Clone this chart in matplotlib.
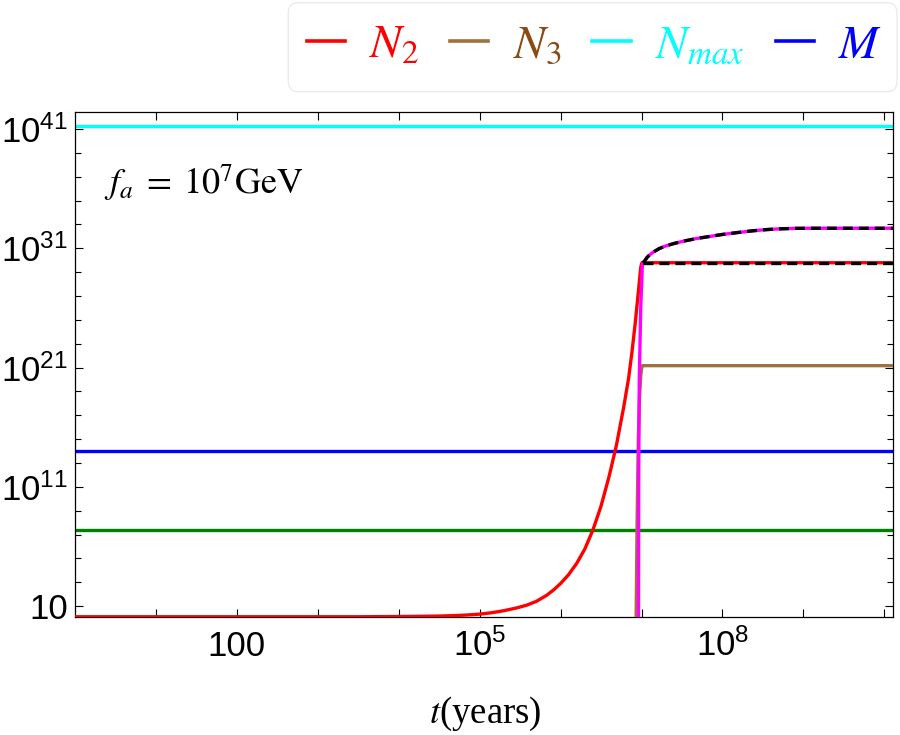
import matplotlib
matplotlib.use("Agg")
import matplotlib.pyplot as plt
from matplotlib.ticker import FixedLocator, NullFormatter
from matplotlib.patches import FancyBboxPatch
from matplotlib.transforms import IdentityTransform

# ---------------- data ----------------
t_limits = [1.0, 1.29e10]
y_limits_log = [0.09, 42.4]

n_max_value = 1.7e41      # cyan
m_value = 1.0e14          # blue
green_value = 2.3e7       # green (not in legend)

# N2 (red): log10 t, log10 N
n2_log_t = [0.0, 2.0, 3.0, 3.5, 4.0, 4.3, 4.5, 4.7, 4.85, 5.0, 5.15, 5.3, 5.45,
            5.58, 5.7, 5.83, 5.92, 6.0, 6.1, 6.2, 6.3, 6.4, 6.5, 6.6, 6.69,
            6.78, 6.84, 6.88, 6.92, 6.96, 6.99, 7.005, 10.11]
n2_log_n = [0.11, 0.11, 0.11, 0.11, 0.13, 0.15, 0.17, 0.21, 0.26, 0.33, 0.45,
            0.62, 0.84, 1.08, 1.40, 1.92, 2.40, 2.90, 3.65, 4.60, 5.80, 7.40,
            9.40, 11.9, 14.5, 17.7, 20.1, 22.2, 24.6, 27.3, 29.4, 29.79, 29.79]

# N3 (brown)
n3_log_t = [6.930, 6.945, 6.960, 6.975, 6.990, 7.000, 7.010, 10.11]
n3_log_n = [-2.0, 8.0, 15.0, 18.5, 20.3, 20.9, 21.16, 21.16]

# total (magenta, not in legend)
tot_log_t = [6.962, 6.965, 6.972, 6.990, 7.010, 7.040, 7.070, 7.100, 7.150,
             7.220, 7.300, 7.400, 7.520, 7.680, 7.850, 8.010, 8.200, 8.380,
             8.550, 8.710, 8.900, 9.120, 10.11]
tot_log_n = [-2.0, 12.0, 20.0, 26.0, 29.6, 29.95, 30.25, 30.45, 30.70,
             30.98, 31.20, 31.40, 31.60, 31.82, 32.00, 32.17, 32.33, 32.47,
             32.57, 32.63, 32.67, 32.68, 32.68]

# black dashed approximations
dash_up_log_t = [7.015, 7.040, 7.070, 7.100, 7.150, 7.220, 7.300, 7.400, 7.520,
                 7.680, 7.850, 8.010, 8.200, 8.380, 8.550, 8.710, 8.900, 9.120,
                 10.11]
dash_up_log_n = [29.79, 29.95, 30.25, 30.45, 30.70, 30.98, 31.20, 31.40, 31.60,
                 31.82, 32.00, 32.17, 32.33, 32.47, 32.57, 32.63, 32.67, 32.68,
                 32.68]
dash_low_log_t = [7.015, 10.11]
dash_low_log_n = [29.79, 29.79]

x_major = [1e2, 1e5, 1e8]
x_major_labels = ["100", r"$\mathregular{10^{5}}$", r"$\mathregular{10^{8}}$"]
x_minor = [1e1, 1e3, 1e4, 1e6, 1e7, 1e9, 1e10]
y_major = [1e1, 1e11, 1e21, 1e31, 1e41]
y_major_labels = ["10", r"$\mathregular{10^{11}}$", r"$\mathregular{10^{21}}$",
                  r"$\mathregular{10^{31}}$", r"$\mathregular{10^{41}}$"]
y_minor = [10.0 ** k for k in range(3, 41, 2) if k not in (11, 21, 31)]

legend_labels = [r"$N_2$", r"$N_3$", r"$N_{max}$", r"$M$"]
legend_text_colors = ["#FF0000", "#8B4A13", "#00FFFF", "#0000FF"]

# ---------------- style ----------------
plt.rcParams["font.family"] = ["Liberation Sans", "DejaVu Sans"]
plt.rcParams["mathtext.fontset"] = "stix"
plt.rcParams["lines.scale_dashes"] = False

RED = "#FF0000"
BROWN = "#A0703F"
CYAN = "#00FFFF"
BLUE = "#0000FF"
GREEN = "#008000"
MAGENTA = "#FF00FF"
LW = 2.4

fig = plt.figure(figsize=(9.0, 7.35), dpi=100)
ax = fig.add_axes([75 / 900, 1 - 617 / 735, (893.3 - 75) / 900, (617 - 112.3) / 735])
ax.set_xscale("log")
ax.set_yscale("log")

def p(v):
    return [10.0 ** x for x in v]

ax.plot(t_limits, [green_value] * 2, color=GREEN, lw=LW, zorder=2)
l_m, = ax.plot(t_limits, [m_value] * 2, color=BLUE, lw=LW, zorder=2)
l_max, = ax.plot(t_limits, [n_max_value] * 2, color=CYAN, lw=LW, zorder=2)
l_n2, = ax.plot(p(n2_log_t), p(n2_log_n), color=RED, lw=LW, zorder=3)
l_n3, = ax.plot(p(n3_log_t), p(n3_log_n), color=BROWN, lw=LW, zorder=3)
ax.plot(p(tot_log_t), p(tot_log_n), color=MAGENTA, lw=LW, zorder=4)
ax.plot(p(dash_low_log_t), p(dash_low_log_n), color="black", lw=LW,
        dashes=(7.2, 4.3), zorder=5)
ax.plot(p(dash_up_log_t), p(dash_up_log_n), color="black", lw=LW,
        dashes=(7.2, 4.3), zorder=5)

ax.set_xlim(t_limits)
ax.set_ylim(10 ** y_limits_log[0], 10 ** y_limits_log[1])

ax.xaxis.set_major_locator(FixedLocator(x_major))
ax.xaxis.set_minor_locator(FixedLocator(x_minor))
ax.xaxis.set_minor_formatter(NullFormatter())
ax.set_xticklabels(x_major_labels)
ax.yaxis.set_major_locator(FixedLocator(y_major))
ax.yaxis.set_minor_locator(FixedLocator(y_minor))
ax.yaxis.set_minor_formatter(NullFormatter())
ax.set_yticklabels(y_major_labels)

ax.tick_params(axis="both", which="both", direction="in", top=True, right=True,
               width=0.8, color="black", labelsize=25)
ax.tick_params(axis="x", which="both", length=5.5, pad=28)
ax.tick_params(axis="y", which="major", length=5.8, pad=5)
ax.tick_params(axis="y", which="minor", length=4.2)
for lab in ax.get_xticklabels():
    lab.set_verticalalignment("baseline")
for lab in ax.get_yticklabels():
    lab.set_verticalalignment("center_baseline")
for s in ax.spines.values():
    s.set_linewidth(0.9)

# annotation and axis label
fig.text(104 / 900, 1 - 193.5 / 735, r"$f_a\;=\;10^7\mathrm{GeV}$",
         fontsize=26, va="baseline", ha="left",
         family=["Liberation Serif", "DejaVu Serif"])
fig.text(485 / 900, 1 - 723 / 735, r"$t$(years)", fontsize=26.5,
         va="baseline", ha="center", family=["Liberation Serif", "DejaVu Serif"])

# legend frame (drawn in pixel coordinates, behind everything) and entries
frame = FancyBboxPatch((288.3, 735 - 91.7), 897 - 288.3, 89.0,
                       boxstyle="round,pad=0,rounding_size=10",
                       transform=IdentityTransform(), facecolor="white",
                       edgecolor="#ebebeb", linewidth=1.0, zorder=-5)
fig.patches.append(frame)

leg = fig.legend([l_n2, l_n3, l_max, l_m], legend_labels, ncol=4,
                 loc="center right", bbox_to_anchor=(882 / 900, 1 - 46 / 735),
                 bbox_transform=fig.transFigure, fontsize=34,
                 handlelength=0.81, handletextpad=0.51, columnspacing=0.66,
                 borderpad=0.0, borderaxespad=0.0, frameon=False,
                 labelcolor=legend_text_colors)
leg.set_zorder(20)
for h in leg.get_lines():
    h.set_linewidth(2.6)

fig.savefig("out.png", dpi=100)
